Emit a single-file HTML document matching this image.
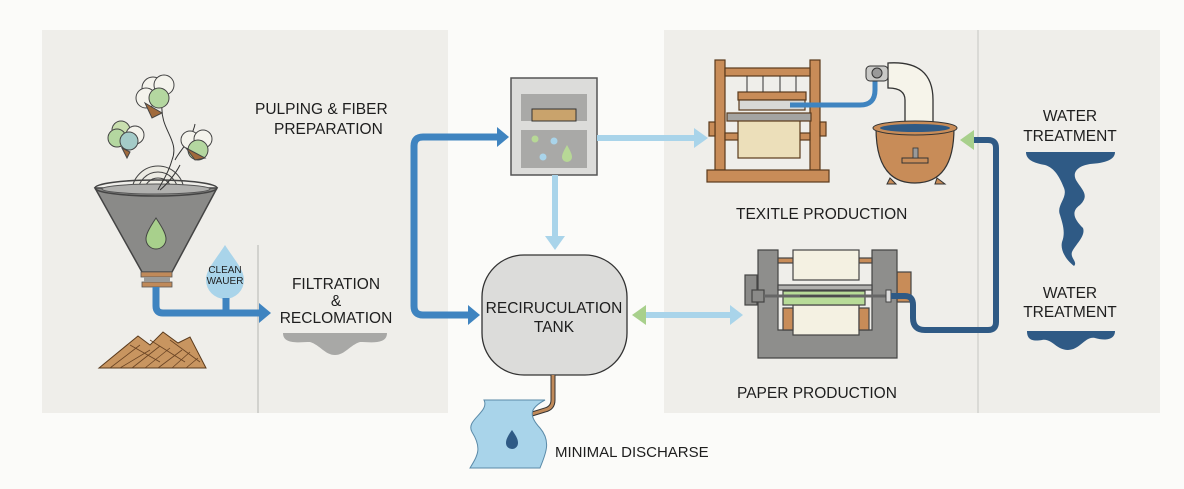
<!DOCTYPE html>
<html><head><meta charset="utf-8"><style>
html,body{margin:0;padding:0;background:#fbfbf9;}
svg{display:block;}
text{font-family:"Liberation Sans",sans-serif;fill:#1e1e1e;}
</style></head><body>
<svg width="1184" height="489" viewBox="0 0 1184 489" xmlns="http://www.w3.org/2000/svg">
<rect x="0" y="0" width="1184" height="489" fill="#fbfbf9"/>
<rect x="42" y="30" width="406" height="383" fill="#efeeea"/>
<rect x="664" y="30" width="496" height="383" fill="#efeeea"/>
<line x1="258" y1="245" x2="258" y2="413" stroke="#c9c8c4" stroke-width="1.5"/>
<line x1="978" y1="30" x2="978" y2="413" stroke="#d4d3cf" stroke-width="1.5"/>

<!-- funnel -->
<path d="M95 188 L142 272 L172 272 L217 188 Z" fill="#8a8a88" stroke="#444" stroke-width="1.5"/>
<g fill="none" stroke="#444" stroke-width="1">
<path d="M132 192 A25 25 0 0 1 184 192" fill="#ecebe3"/>
<path d="M138 192 A19 19 0 0 1 178 192"/><path d="M144 192 A13 13 0 0 1 172 192"/><path d="M150 192 A7 7 0 0 1 166 192"/>
</g>
<ellipse cx="156" cy="188" rx="61" ry="8" fill="none" stroke="#444" stroke-width="1.5"/>
<ellipse cx="156" cy="189" rx="54" ry="5" fill="#b0b0ae" stroke="#555" stroke-width="1"/>
<path d="M156 218 C148 230 146 235 146 239 A10 10 0 0 0 166 239 C166 235 164 230 156 218Z" fill="#a8d08c" stroke="#444"/>
<rect x="141" y="272" width="31" height="5" fill="#c08a5a" stroke="#555" stroke-width=".8"/>
<rect x="142" y="282" width="30" height="5" fill="#c08a5a" stroke="#555" stroke-width=".8"/>
<rect x="144" y="277" width="26" height="5" fill="#9a9a98"/>
<!-- cotton -->
<g stroke="#333" stroke-width="1" fill="none">
<path d="M162 105 C160 130 180 140 172 160 C168 175 160 185 158 190"/>
<path d="M180 165 C175 175 166 185 160 190"/>
<path d="M195 124 C192 140 180 150 175 160"/>
</g>
<g stroke="#444" stroke-width="1">
<circle cx="153" cy="88" r="11" fill="#f4f3ec"/><circle cx="164" cy="85" r="10" fill="#f4f3ec"/><circle cx="146" cy="98" r="10" fill="#f4f3ec"/><circle cx="159" cy="98" r="10" fill="#b4d7a0"/>
<circle cx="121" cy="130" r="9" fill="#c9dfaf"/><circle cx="135" cy="135" r="9" fill="#f4f3ec"/><circle cx="117" cy="138" r="9" fill="#b4d7a0"/><circle cx="129" cy="141" r="9" fill="#a4cbc8"/>
<circle cx="190" cy="140" r="9" fill="#f4f3ec"/><circle cx="203" cy="139" r="9" fill="#f4f3ec"/><circle cx="198" cy="150" r="10" fill="#b4d7a0"/>
<path d="M145 103 L162 113 L152 118Z" fill="#a06a3c"/><path d="M122 148 L130 152 L127 158Z" fill="#a06a3c"/><path d="M186 148 L195 160 L205 158Z" fill="#a06a3c"/>
</g>
<!-- wood pile -->
<path d="M99 368 L138 336 L150 345 L163 332 L178 343 L190 337 L206 368Z" fill="#c89560" stroke="#5a3a1c" stroke-width="1"/>
<g stroke="#6a4424" stroke-width=".8" fill="none">
<path d="M110 368 L140 345 M120 368 L150 350 M132 368 L160 346 M145 368 L170 348 M158 368 L182 350 M172 368 L190 352 M186 368 L198 358 M130 345 L160 362 M150 340 L185 362 M170 340 L200 362"/>
</g>
<!-- clean water drop -->
<path d="M225 245 C214 262 206 270 206 280 A19 19 0 0 0 244 280 C244 270 236 262 225 245Z" fill="#a9d4ea"/>
<text x="225" y="273" font-size="10" text-anchor="middle">CLEAN</text>
<text x="225" y="284" font-size="10" text-anchor="middle">WAUER</text>
<!-- pipe -->
<path d="M156 287 L156 306 Q156 313 163 313 L262 313" fill="none" stroke="#3f84c0" stroke-width="7"/>
<path d="M226 298 L226 313" stroke="#3f84c0" stroke-width="7"/>
<path d="M259 303 L271 313 L259 323Z" fill="#3f84c0"/>

<text x="255" y="114" font-size="15.5">PULPING &amp; FIBER</text>
<text x="274" y="134" font-size="15.5">PREPARATION</text>
<text x="336" y="289" font-size="15.5" text-anchor="middle">FILTRATION</text>
<text x="336" y="306" font-size="15.5" text-anchor="middle">&amp;</text>
<text x="336" y="323" font-size="15.5" text-anchor="middle">RECLOMATION</text>
<path d="M283 333 L387 333 C387 345 370 342 360 342 C350 345 345 355 335 355 C325 355 320 345 310 342 C300 342 283 345 283 333Z" fill="#a8a8a6"/>

<!-- loop arrow left -->
<path d="M472 315 L423 315 Q414 315 414 306 L414 146 Q414 137 423 137 L500 137" fill="none" stroke="#3f84c0" stroke-width="7"/>
<path d="M497 127 L509 137 L497 147Z" fill="#3f84c0"/>
<path d="M468 305 L480 315 L468 325Z" fill="#3f84c0"/>

<!-- box -->
<rect x="511" y="78" width="86" height="97" fill="#dcdcda" stroke="#555" stroke-width="1.5"/>
<rect x="521" y="94" width="66" height="27" fill="#a9a9a7"/>
<rect x="532" y="109" width="44" height="12" fill="#c9a36c" stroke="#333" stroke-width="1"/>
<rect x="521" y="130" width="66" height="38" fill="#a9a9a7"/>
<circle cx="535" cy="139" r="3.5" fill="#b7d896"/><circle cx="554" cy="141" r="3.5" fill="#a9d4ea"/><circle cx="543" cy="157" r="3.5" fill="#a9d4ea"/>
<path d="M567 145 C563 152 562 155 562 157 A5 5 0 0 0 572 157 C572 155 571 152 567 145Z" fill="#b7d896"/>
<!-- light arrows -->
<path d="M555 175 L555 238" stroke="#a9d4ea" stroke-width="6"/>
<path d="M545 236 L555 250 L565 236Z" fill="#a9d4ea"/>
<path d="M597 138 L696 138" stroke="#a9d4ea" stroke-width="6"/>
<path d="M694 128 L708 138 L694 148Z" fill="#a9d4ea"/>

<!-- tank -->
<rect x="482" y="255" width="145" height="120" rx="42" fill="#dcdcda" stroke="#333" stroke-width="1.3"/>
<text x="554" y="313" font-size="15.5" text-anchor="middle">RECIRUCULATION</text>
<text x="554" y="332" font-size="15.5" text-anchor="middle">TANK</text>
<!-- double arrow -->
<path d="M642 315 L733 315" stroke="#a9d4ea" stroke-width="6"/>
<path d="M646 305 L632 315 L646 325Z" fill="#a8d08c"/>
<path d="M730 305 L743 315 L730 325Z" fill="#a9d4ea"/>

<!-- discharge -->
<path d="M553 375 L553 400 Q553 408 545 410 L532 414" fill="none" stroke="#333" stroke-width="5"/>
<path d="M553 375 L553 400 Q553 408 545 410 L532 414" fill="none" stroke="#c08a5a" stroke-width="3"/>
<path d="M484 400 L545 400 C530 408 528 415 540 428 C552 442 545 455 540 468 L470 468 C478 455 482 448 472 432 C465 420 490 412 484 400Z" fill="#a9d4ea" stroke="#5a8aa8" stroke-width="1"/>
<path d="M512 430 C507 437 506 440 506 443 A6 6 0 0 0 518 443 C518 440 517 437 512 430Z" fill="#2f5a85"/>
<text x="555" y="457" font-size="15">MINIMAL DISCHARSE</text>

<!-- loom -->
<g stroke="#5a3a1c" stroke-width="1.2">
<rect x="715" y="60" width="10" height="110" fill="#c88c58"/>
<rect x="810" y="60" width="10" height="110" fill="#c88c58"/>
<rect x="725" y="68" width="85" height="8" fill="#c88c58"/>
<rect x="707" y="170" width="122" height="12" fill="#c88c58"/>
<rect x="725" y="133" width="85" height="7" fill="#c88c58"/>
<rect x="738" y="92" width="68" height="8" fill="#c88c58"/>
<rect x="739" y="100" width="66" height="10" fill="#d8d8d6"/>
<rect x="738" y="118" width="62" height="40" fill="#ecdfba"/>
<rect x="727" y="113" width="84" height="8" fill="#a4a4a2"/>
<rect x="709" y="122" width="6" height="14" fill="#c88c58"/><rect x="820" y="122" width="6" height="14" fill="#c88c58"/>
</g>
<g stroke="#333" stroke-width="1"><path d="M747 76 V92 M763 76 V92 M780 76 V92 M796 76 V92"/></g>
<path d="M790 105 L860 105 Q875 105 875 90 L875 72" fill="none" stroke="#3f84c0" stroke-width="5"/>
<!-- kettle -->
<path d="M888 63 Q933 60 933 100 L933 124 L905 124 L905 100 Q905 88 888 88 Z" fill="#f6f4ea" stroke="#333" stroke-width="1.3"/>
<rect x="866" y="66" width="22" height="15" rx="4" fill="#c9c9c7" stroke="#333"/>
<circle cx="877" cy="73" r="5" fill="#999" stroke="#333"/>
<path d="M876 128 Q876 183 915 183 Q954 183 954 128Z" fill="#c88c58" stroke="#333" stroke-width="1.2"/>
<ellipse cx="915" cy="128" rx="42" ry="7" fill="#c88c58" stroke="#333"/>
<ellipse cx="915" cy="128" rx="35" ry="4" fill="#2f5a85"/>
<rect x="902" y="158" width="26" height="5" fill="#c88c58" stroke="#333"/>
<rect x="913" y="148" width="5" height="10" fill="#999" stroke="#333" stroke-width=".8"/>
<path d="M890 178 L887 184 L896 184Z M937 178 L945 184 L935 184Z" fill="#c88c58" stroke="#333"/>
<text x="736" y="219" font-size="15.5">TEXITLE PRODUCTION</text>

<!-- paper machine -->
<g stroke="#444" stroke-width="1.2">
<rect x="745" y="275" width="12" height="30" fill="#8a8a88"/>
<rect x="897" y="272" width="14" height="30" fill="#c88c58"/>
<path d="M758 250 L778 250 L778 330 L872 330 L872 250 L897 250 L897 358 L758 358Z" fill="#8e8e8c"/>
<rect x="778" y="258" width="94" height="5" fill="#c88c58"/>
<rect x="793" y="250" width="66" height="30" fill="#f4f1e2"/>
<rect x="778" y="285" width="94" height="5" fill="#b0b0ae"/>
<rect x="793" y="305" width="66" height="30" fill="#f4f1e2"/>
<rect x="783" y="308" width="10" height="22" fill="#c88c58"/><rect x="859" y="308" width="10" height="22" fill="#c88c58"/>
<rect x="783" y="291" width="82" height="14" fill="#b8dc98"/>
<rect x="752" y="290" width="12" height="12" fill="#8a8a88"/>
</g>
<path d="M764 296 L888 296" stroke="#666" stroke-width="3"/>
<line x1="800" y1="296" x2="850" y2="296" stroke="#333" stroke-width="1"/>
<rect x="886" y="290" width="5" height="12" fill="#ddd" stroke="#444"/>
<text x="737" y="398" font-size="15.5">PAPER PRODUCTION</text>
<!-- dark pipe -->
<path d="M891 296 L905 296 Q913 296 913 305 L913 318 Q913 330 925 330 L988 330 Q996 330 996 322 L996 148 Q996 140 988 140 L973 140" fill="none" stroke="#2f5a85" stroke-width="6"/>
<path d="M974 130 L960 140 L974 150Z" fill="#a8d08c"/>

<!-- water treatment -->
<text x="1070" y="121" font-size="15.5" text-anchor="middle">WATER</text>
<text x="1070" y="141" font-size="15.5" text-anchor="middle">TREATMENT</text>
<path d="M1026 152 L1115 152 C1115 160 1105 163 1090 164 C1078 166 1072 172 1076 180 C1082 190 1090 195 1080 205 C1070 212 1075 220 1083 228 C1086 236 1075 245 1072 252 C1070 258 1078 262 1074 266 C1066 260 1060 250 1062 242 C1066 232 1062 222 1060 215 C1056 205 1068 198 1064 188 C1060 178 1055 168 1045 165 C1034 163 1026 160 1026 152Z" fill="#2f5a85"/>
<text x="1070" y="298" font-size="15.5" text-anchor="middle">WATER</text>
<text x="1070" y="317" font-size="15.5" text-anchor="middle">TREATMENT</text>
<path d="M1027 331 L1115 331 C1115 340 1105 341 1095 338 C1085 336 1080 350 1068 350 C1056 350 1052 338 1042 340 C1030 342 1027 338 1027 331Z" fill="#2f5a85"/>
</svg>
</body></html>
